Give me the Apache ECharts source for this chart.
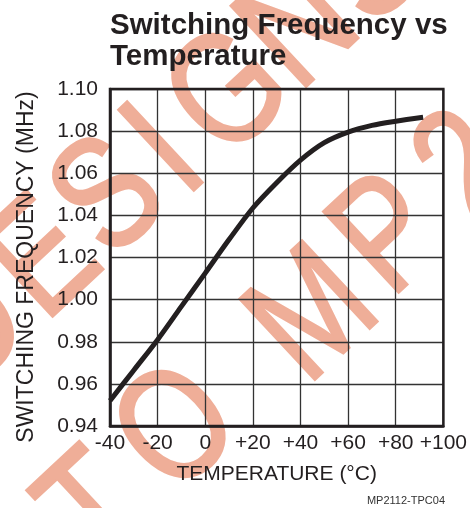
<!DOCTYPE html>
<html>
<head>
<meta charset="utf-8">
<script src="https://cdn.jsdelivr.net/npm/echarts@6/dist/echarts.min.js"></script>
<style>
html,body{margin:0;padding:0;background:#fff;}
#chart{width:470px;height:508px;}
</style>
</head>
<body>
<div id="chart"></div>
<script>
// Data
const temperatures = [-40, -30, -20, -10, 0, 10, 20, 30, 40, 50, 60, 70, 80, 91.5];
const frequencyMHz = [0.952, 0.9665, 0.981, 0.9968, 1.0126, 1.0285, 1.0435, 1.0555, 1.0662, 1.0745, 1.0795, 1.0827, 1.0847, 1.0866];
const xTicks = [-40, -20, 0, 20, 40, 60, 80, 100];
const yTicks = [0.94, 0.96, 0.98, 1.00, 1.02, 1.04, 1.06, 1.08, 1.10];

const FONT = 'Liberation Sans, Arial, sans-serif';
const INK = '#231f20';
const WM = '#efae98';

const seriesData = temperatures.map((t, i) => [t, frequencyMHz[i]]);

// watermark letters (decoration)
const rot = 43 * Math.PI / 180;
const wmLetters = [
  ['D', -28, 330], ['E', 46, 262], ['S', 112, 200], ['I', 168, 154], ['G', 232, 96], ['N', 302, 30], ['S', 372, -32],
  ['T', 98, 514], ['O', 180, 432], ['M', 316, 318], ['P', 392, 238], ['2', 470, 170]
];
const wmGraphics = wmLetters.map(([ch, x, y]) => ({
  type: 'text', x: x, y: y, rotation: rot, scaleX: 0.8, z: -10, silent: true,
  style: { text: ch, fill: WM, stroke: WM, lineWidth: 3, font: 'normal 160px ' + FONT, align: 'center', verticalAlign: 'middle' }
}));

const chart = echarts.init(document.getElementById('chart'), null, { renderer: 'canvas' });
chart.setOption({
  animation: false,
  backgroundColor: '#ffffff',
  title: {
    text: 'Switching Frequency vs\nTemperature',
    left: 110, top: 10, padding: 0,
    textStyle: { fontFamily: FONT, fontWeight: 'bold', fontSize: 29.5, lineHeight: 31, color: INK }
  },
  grid: {
    left: 110, right: 24, top: 89, bottom: 82,
    show: true, borderColor: INK, borderWidth: 2.5, backgroundColor: 'transparent', z: 5
  },
  xAxis: {
    type: 'value', min: -40, max: 100, interval: 20,
    name: 'TEMPERATURE (°C)', nameLocation: 'middle', nameGap: 38,
    nameTextStyle: { fontFamily: FONT, fontSize: 21, color: INK },
    axisLine: { show: true, onZero: false, lineStyle: { color: INK, width: 2.5 } },
    axisTick: { show: false },
    axisLabel: {
      fontFamily: FONT, fontSize: 21, color: INK, margin: 7,
      formatter: v => (v > 0 ? '+' + v : String(v))
    },
    splitLine: { show: true, lineStyle: { color: '#333', width: 1.3 } }
  },
  yAxis: {
    type: 'value', min: 0.94, max: 1.10, interval: 0.02,
    axisLine: { show: true, onZero: false, lineStyle: { color: INK, width: 2.5 } },
    axisTick: { show: false },
    axisLabel: {
      fontFamily: FONT, fontSize: 21, color: INK, margin: 12,
      formatter: v => v.toFixed(2)
    },
    splitLine: { show: true, lineStyle: { color: '#333', width: 1.3 } }
  },
  series: [{
    type: 'line', data: seriesData, smooth: 0.3, showSymbol: false, symbol: 'none',
    lineStyle: { color: INK, width: 5 }, z: 10
  }],
  graphic: wmGraphics.concat([
    {
      type: 'text', x: 27, y: 267, rotation: Math.PI / 2, silent: true,
      style: { text: 'SWITCHING FREQUENCY (MHz)', fill: INK, font: 'normal 23px ' + FONT, align: 'center', verticalAlign: 'middle' }
    },
    {
      type: 'text', x: 445, y: 501, silent: true,
      style: { text: 'MP2112-TPC04', fill: '#333', font: 'normal 11px ' + FONT, align: 'right', verticalAlign: 'middle' }
    }
  ])
});
</script>
</body>
</html>
